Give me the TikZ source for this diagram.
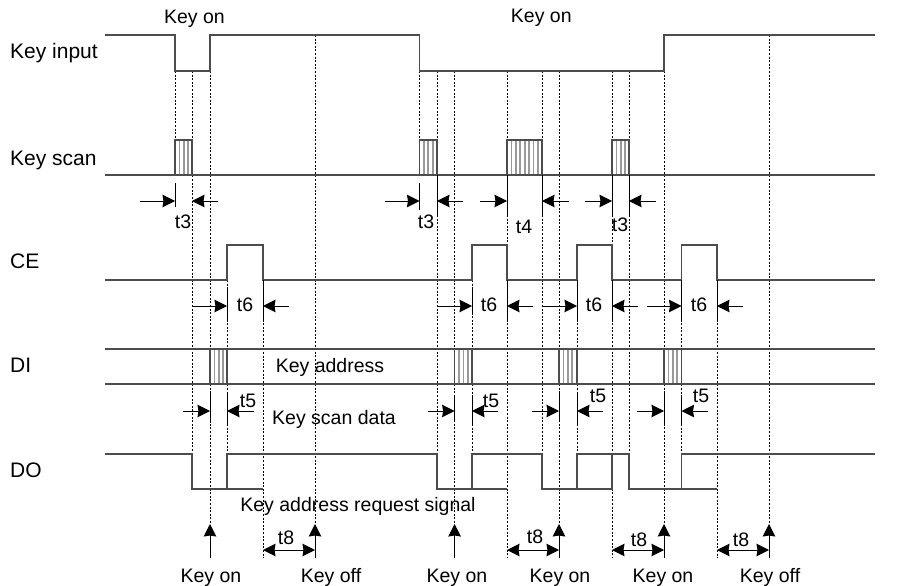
\documentclass[tikz,border=0pt]{standalone}
\usepackage{fontspec}
\setmainfont{Liberation Sans}
\usetikzlibrary{arrows.meta}

\tikzset{
  wave/.style={line width=1.2pt, black!70},
  guide/.style={line width=1pt, dash pattern=on 2pt off 1.6pt},
  tick/.style={line width=1pt},
  stripe/.style={line width=1.8pt, black!40},
  dim/.style={line width=1pt, ->},
  lbl/.style={inner sep=0pt, font=\fontsize{19.5}{20}\selectfont},
  big/.style={lbl, anchor=base west, font=\fontsize{21}{22}\selectfont},
}

\begin{document}
\begin{tikzpicture}[x=1pt, y=-1pt, >={Stealth[length=12.5pt, width=12.5pt, inset=1pt]}]
    \useasboundingbox (0, 0) rectangle (902, 586);

    % signal names
    \node[big] at (10, 59) (s 1) {Key input};
    \node[big] at (10, 165) (s 2) {Key scan};
    \node[big] at (10, 268) (s 3) {CE};
    \node[big] at (10, 372) (s 4) {DI};
    \node[big] at (10, 477) (s 5) {DO};

    \node[lbl, anchor=base] at (194.5, 24) (top 1) {Key on};
    \node[lbl, anchor=base] at (541.3, 23) (top 2) {Key on};

    \node[lbl, anchor=base] at (330, 372) (txt 1) {Key address};
    \node[lbl, anchor=base] at (334, 424) (txt 2) {Key scan data};
    \node[lbl, anchor=base] at (358, 511) (txt 3) {Key address request signal};

    \node[lbl, anchor=base] at (211, 582) (bot 1) {Key on};
    \node[lbl, anchor=base] at (331, 582) (bot 2) {Key off};
    \node[lbl, anchor=base] at (457, 582) (bot 3) {Key on};
    \node[lbl, anchor=base] at (560, 582) (bot 4) {Key on};
    \node[lbl, anchor=base] at (663, 582) (bot 5) {Key on};
    \node[lbl, anchor=base] at (770, 582) (bot 6) {Key off};

    \foreach \x/\y/\t [count=\i] in {183/222/t3, 426/222/t3, 524/227/t4, 620/225/t3,
        245/305/t6, 489/305/t6, 594/305/t6, 699/305/t6,
        248/401/t5, 491/401/t5, 598/396/t5, 701/396/t5,
        286/538/t8, 535/537/t8, 639/540/t8, 741/540/t8}
    \node[lbl] at (\x, \y) (time \i) {\t};

    % stripes first, lines on top
    \foreach \x/\n in {175/3, 419.5/3, 507/7, 612/3}
    \foreach \i in {1,...,\n}
    \draw[stripe] ({\x+\i*4.4}, 140) -- ({\x+\i*4.4}, 175);

    \foreach \x in {210, 454.6, 559, 664}
    \foreach \i in {1,2,3}
    \draw[stripe] ({\x+\i*4.4}, 349) -- ({\x+\i*4.4}, 384);

    % dotted guides
    \foreach \x/\a/\b in {175/71/140, 192/71/454, 210/71/525, 227/280/489, 263/280/558,
        315/35/525, 419.5/71/140, 437/71/454, 454.6/71/525, 472/280/489,
        507/71/558, 542/71/454, 559/71/525, 577/280/489, 612/71/558,
        629/71/454, 664/71/525, 681.5/280/489, 717/280/558, 769/35/525}
    \draw[guide] (\x, \a) -- (\x, \b);

    % waves
    \draw[wave] (105, 35) -- (175, 35) -- (175, 71) -- (210, 71) -- (210, 35)
        -- (419.5, 35) -- (419.5, 71) -- (664, 71) -- (664, 35) -- (875, 35);

    \draw[wave] (105, 175) -- (875, 175);
    \foreach \a/\b in {175/192, 419.5/437, 507/542, 612/629}
    \draw[wave] (\a, 175) -- (\a, 140) -- (\b, 140) -- (\b, 175);

    \draw[wave] (105, 280) -- (227, 280) -- (227, 245) -- (263, 245) -- (263, 280)
        -- (472, 280) -- (472, 245) -- (507, 245) -- (507, 280)
        -- (577, 280) -- (577, 245) -- (612, 245) -- (612, 280)
        -- (681.5, 280) -- (681.5, 245) -- (717, 245) -- (717, 280) -- (875, 280);

    \draw[wave] (105, 349) -- (875, 349);
    \draw[wave] (105, 384) -- (875, 384);
    \foreach \a/\b in {210/227, 454.6/472, 559/577, 664/681.5} {
    \draw[wave] (\a, 349) -- (\a, 384);
    \draw[wave] (\b, 349) -- (\b, 384);
    }

    \draw[wave] (105, 454) -- (192, 454) -- (192, 489) -- (263, 489);
    \draw[wave] (227, 489) -- (227, 454) -- (437, 454) -- (437, 489) -- (507, 489);
    \draw[wave] (472, 489) -- (472, 454) -- (542, 454) -- (542, 489) -- (612, 489) -- (612, 454);
    \draw[wave] (577, 489) -- (577, 454) -- (629, 454) -- (629, 489) -- (717, 489);
    \draw[wave] (681.5, 489) -- (681.5, 454) -- (875, 454);

    % solid ticks beside the arrows
    \foreach \x/\a/\b in {175/183/207, 419.5/183/210, 437/175/215, 507/175/215, 542/175/215,
        612/175/215, 629/175/215, 227/288/322, 263/280/322, 472/288/315, 507/280/322,
        577/280/322, 612/280/322, 681.5/280/322, 717/280/322,
        210/393/423, 227/393/424, 454.6/395/420, 472/395/426, 559/392/420, 577/392/424,
        664/393/425, 681.5/395/424}
    \draw[tick] (\x, \a) -- (\x, \b);

    % t3, t4 arrows
    \foreach \a/\b in {140/175, 218/192, 385/419.5, 463/437, 480/507, 569/542, 585/612, 656/629}
    \draw[dim] (\a, 201) -- (\b, 201);

    % t6 arrows
    \foreach \a/\b in {192/227, 289/263, 437/472, 533/507, 542/577, 638/612, 646.5/681.5, 743/717}
    \draw[dim] (\a, 306) -- (\b, 306);

    % t5 arrows
    \foreach \a/\b in {183/210, 254/227, 428/454.6, 498/472, 532/559, 603/577, 637/664, 708/681.5}
    \draw[dim] (\a, 411) -- (\b, 411);

    % t8 arrows
    \foreach \a/\b in {263/315, 507/559, 612/664, 717/769}
    \draw[dim, <->] (\a, 550) -- (\b, 550);

    % key events
    \foreach \x in {210, 315, 454.6, 559, 664, 769}
    \draw[dim] (\x, 558) -- (\x, 524);
  \end{tikzpicture}
\end{document}
